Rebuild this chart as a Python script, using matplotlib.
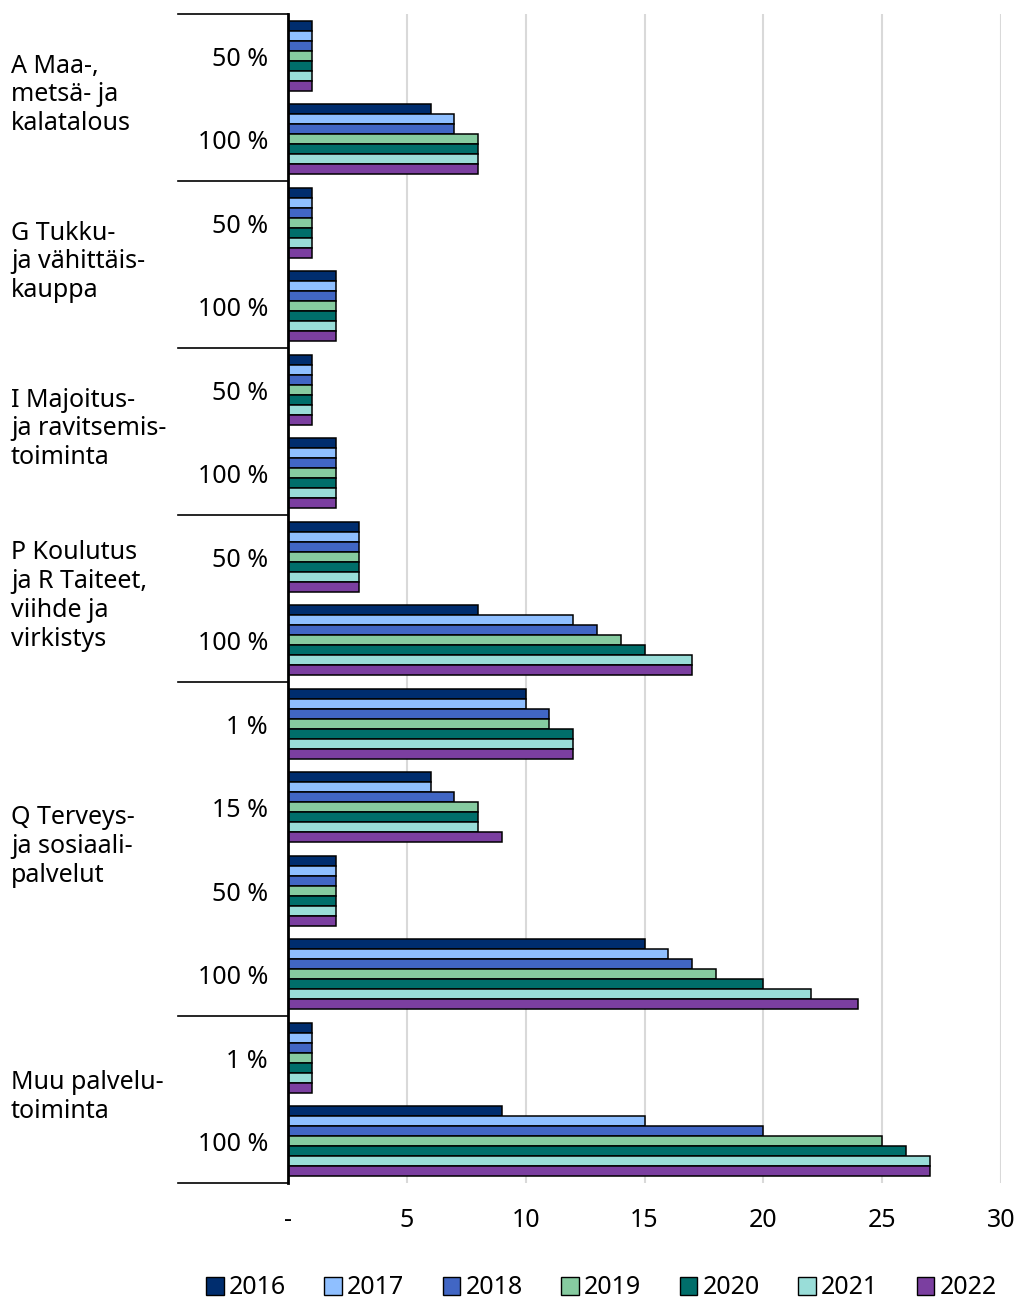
import matplotlib
matplotlib.use("Agg")
import matplotlib.pyplot as plt
import matplotlib.transforms as mtransforms
from matplotlib.patches import Patch
import numpy as np

plt.rcParams['font.family'] = ['Noto Sans', 'DejaVu Sans']

# Data
years = ['2016', '2017', '2018', '2019', '2020', '2021', '2022']
colors = ['#002D6E', '#8FBFFF', '#4166C4', '#86CBA0', '#006E6A', '#99DDD8', '#7B3FA0']

groups = ['A Maa-,\nmetsä- ja\nkalatalous',
          'G Tukku-\nja vähittäis-\nkauppa',
          'I Majoitus-\nja ravitsemis-\ntoiminta',
          'P Koulutus\nja R Taiteet,\nviihde ja\nvirkistys',
          'Q Terveys-\nja sosiaali-\npalvelut',
          'Muu palvelu-\ntoiminta']
group_sizes = [2, 2, 2, 2, 4, 2]
sub_labels = ['50 %', '100 %',
              '50 %', '100 %',
              '50 %', '100 %',
              '50 %', '100 %',
              '1 %', '15 %', '50 %', '100 %',
              '1 %', '100 %']

# values per subcategory, one column per year (2016..2022)
values = [
    [1, 1, 1, 1, 1, 1, 1],
    [6, 7, 7, 8, 8, 8, 8],
    [1, 1, 1, 1, 1, 1, 1],
    [2, 2, 2, 2, 2, 2, 2],
    [1, 1, 1, 1, 1, 1, 1],
    [2, 2, 2, 2, 2, 2, 2],
    [3, 3, 3, 3, 3, 3, 3],
    [8, 12, 13, 14, 15, 17, 17],
    [10, 10, 11, 11, 12, 12, 12],
    [6, 6, 7, 8, 8, 8, 9],
    [2, 2, 2, 2, 2, 2, 2],
    [15, 16, 17, 18, 20, 22, 24],
    [1, 1, 1, 1, 1, 1, 1],
    [9, 15, 20, 25, 26, 27, 27],
]
values = np.array(values)

W, H = 1019, 1298
fig = plt.figure(figsize=(W / 100, H / 100), dpi=100)
x0, x1 = 288, 1001
y0, y1 = 14, 1183
ax = fig.add_axes([x0 / W, 1 - y1 / H, (x1 - x0) / W, (y1 - y0) / H])

n_sub = len(sub_labels)
bh = 0.12
pos = np.arange(n_sub)
for j, yr in enumerate(years):
    ax.barh(pos + (j - 3) * bh, values[:, j], height=bh, color=colors[j],
            edgecolor='black', linewidth=1.1, label=yr, zorder=3)

ax.set_xlim(0, 30)
ax.set_ylim(n_sub - 0.5, -0.5)
ax.set_xticks([0, 5, 10, 15, 20, 25, 30])
ax.set_xticklabels(['-', '5', '10', '15', '20', '25', '30'])
ax.tick_params(axis='x', length=0, pad=18, labelsize=18)
ax.set_yticks([])
ax.grid(axis='x', color='#d9d9d9', linewidth=1.5, zorder=0)
for s in ['top', 'right', 'bottom']:
    ax.spines[s].set_visible(False)
ax.spines['left'].set_linewidth(2)
ax.spines['left'].set_zorder(4)

# multi-level category axis
trans = mtransforms.blended_transform_factory(ax.transAxes, ax.transData)
sep_x = (178 - x0) / (x1 - x0)
lab_x = (11 - x0) / (x1 - x0)
sub_x = (268 - x0) / (x1 - x0)
start = 0
ax.plot([sep_x, 0], [-0.5, -0.5], transform=trans, color='black', lw=1.2, clip_on=False)
for g, size in zip(groups, group_sizes):
    end = start + size
    ax.plot([sep_x, 0], [end - 0.5, end - 0.5], transform=trans, color='black',
            lw=1.2, clip_on=False)
    ax.text(lab_x, (start + end - 1) / 2 - 0.03, g, transform=trans, ha='left',
            va='center', fontsize=18, linespacing=1.2)
    start = end
for i, s in enumerate(sub_labels):
    ax.text(sub_x, i + 0.04, s, transform=trans, ha='right', va='center', fontsize=18)

handles = [Patch(facecolor=c, edgecolor='black', linewidth=1.0) for c in colors]
fig.legend(handles, years, loc='center', bbox_to_anchor=(0.59, 1 - 1288 / H), ncol=7,
           frameon=False, fontsize=18, handlelength=0.7, handleheight=0.7,
           handletextpad=0.2, columnspacing=1.55)

fig.savefig('out.png', dpi=100)
